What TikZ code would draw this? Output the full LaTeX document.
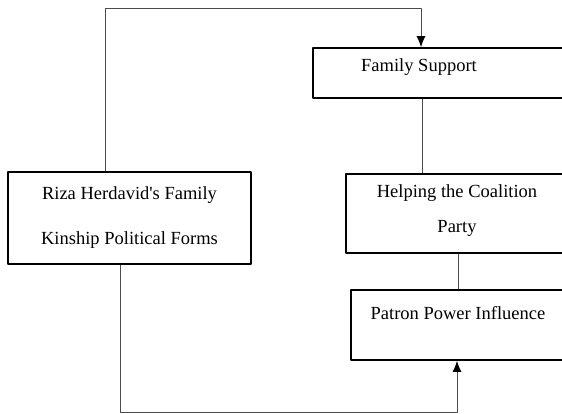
\documentclass[tikz,border=0pt]{standalone}
\usepackage{fontspec}
\setmainfont{Liberation Serif}
\usetikzlibrary{arrows.meta}
\tikzset{>={Latex[length=11pt,width=9pt,black]}}
\tikzset{
    box/.style={draw, line width=1.6pt, rectangle, inner sep=0pt},
    box text/.style={font=\fontsize{18.5}{45}\selectfont, align=center},
    link/.style={draw=black!70, line width=1pt}
}

\begin{document}
\begin{tikzpicture}[x=1pt, y=-1pt, line join = round]
    \useasboundingbox (0,0) rectangle (562,413);
    \clip (0,0) rectangle (562,413);
    \node[box, box text, minimum width=243pt, minimum height=92pt] (riza) at (129.5,218) {Riza Herdavid\textquotesingle s Family\\Kinship Political Forms};
    \node[box, minimum width=307pt, minimum height=50pt, label={[box text, xshift=-47.5pt, yshift=6pt]center:Family Support}] (famsup) at (466.5,73) {};
    \node[box, minimum width=274pt, minimum height=79pt, label={[box text, xshift=-26pt, yshift=3pt]center:Helping the Coalition\\[-10pt]Party}] (helping) at (483,213.5) {};
    \node[box, minimum width=269pt, minimum height=70pt, label={[box text, xshift=-27.5pt, yshift=12pt]center:Patron Power Influence}] (patron) at (485.5,325) {};
    \coordinate (looptop) at (0,8);
    \coordinate (loopbot) at (0,412);
    \draw[link, ->] ([xshift=-24.5pt]riza.north) |- ([xshift=-45.5pt]famsup.north |- looptop) -- ([xshift=-45.5pt]famsup.north);
    \draw[link, ->] ([xshift=-9.5pt]riza.south) |- ([xshift=-28.5pt]patron.south |- loopbot) -- ([xshift=-28.5pt]patron.south);
    \draw[link] ([xshift=-44.5pt]famsup.south) -- ([xshift=-44.5pt]famsup.south |- helping.north);
    \draw[link] ([xshift=-25pt]helping.south) -- ([xshift=-25pt]helping.south |- patron.north);
\end{tikzpicture}
\end{document}
